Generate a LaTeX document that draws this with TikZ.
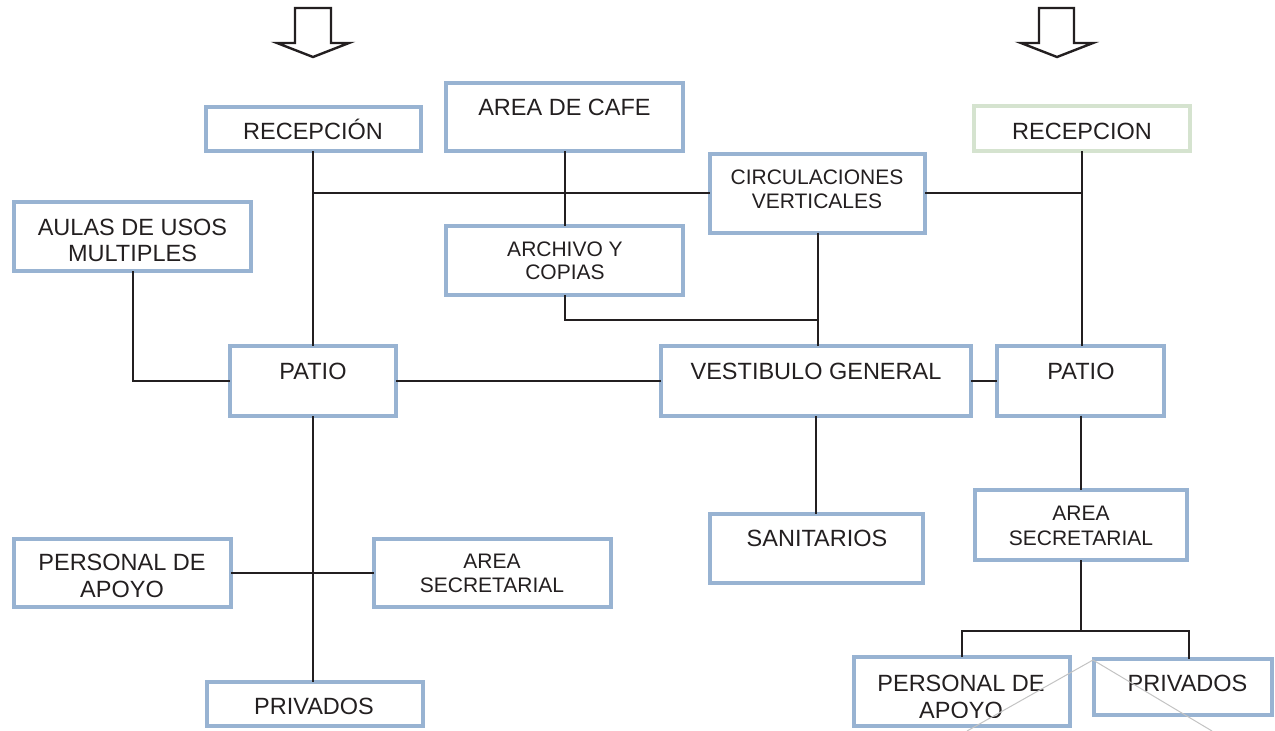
\documentclass[tikz,border=0pt]{standalone}
\usepackage{fontspec}
\setmainfont{Liberation Sans}
\definecolor{boxblue}{RGB}{152,179,210}
\definecolor{boxgreen}{RGB}{213,227,207}
\definecolor{txtc}{RGB}{35,31,32}
\definecolor{straygray}{RGB}{195,195,195}
\begin{document}
\begin{tikzpicture}[x=1pt,y=-1pt,
  box/.style={draw=boxblue, line width=4pt, inner sep=0pt, outer sep=0pt},
  conn/.style={draw=txtc, line width=2pt},
  big/.style={text=txtc, inner sep=0pt, align=center, font=\fontsize{23.5}{#1}\selectfont},
  big/.default=26,
  small/.style={text=txtc, inner sep=0pt, align=center, font=\fontsize{21}{#1}\selectfont},
  small/.default=24,
  blockarrow/.style={draw=txtc, line width=2.4pt, fill=white, line join=miter},
  strayline/.style={draw=straygray, line width=1pt}]
\useasboundingbox (0,0) rectangle (1275,731);

% boxes
\node[box, minimum width=215pt, minimum height=44pt] (recL) at (313,129) {};
\node[box, minimum width=237pt, minimum height=68pt] (cafe) at (564.5,117) {};
\node[box, minimum width=215pt, minimum height=79pt] (circ) at (817.5,193) {};
\node[box, draw=boxgreen, minimum width=216pt, minimum height=45pt] (recR) at (1082,128.5) {};
\node[box, minimum width=237pt, minimum height=69pt] (aulas) at (132.5,236.5) {};
\node[box, minimum width=237pt, minimum height=69pt] (archivo) at (564.5,260.5) {};
\node[box, minimum width=166pt, minimum height=70pt] (patioL) at (313,381) {};
\node[box, minimum width=310pt, minimum height=70pt] (vest) at (816,381) {};
\node[box, minimum width=167pt, minimum height=70pt] (patioR) at (1080.5,380.5) {};
\node[box, minimum width=213pt, minimum height=69pt] (sanit) at (816.5,548.5) {};
\node[box, minimum width=212pt, minimum height=70pt] (secR) at (1081,525) {};
\node[box, minimum width=217pt, minimum height=68pt] (persL) at (122.5,573) {};
\node[box, minimum width=237pt, minimum height=68pt] (secL) at (492.5,573) {};
\node[box, minimum width=216pt, minimum height=44pt] (privL) at (315,704) {};
\node[box, minimum width=216pt, minimum height=69pt] (persR) at (962,691.5) {};
\node[box, minimum width=178pt, minimum height=56pt] (privR) at (1183,687) {};

% texts
\node[big, anchor=base] (tRecL) at (313,139.4) {RECEPCIÓN};
\node[big, anchor=base] (tCafe) at (564.5,115.4) {AREA DE CAFE};
\node[small=24] (tCirc) at (817,189) {CIRCULACIONES\\VERTICALES};
\node[big, anchor=base] (tRecR) at (1082,139.4) {RECEPCION};
\node[big=26] (tAulas) at (132.5,240) {AULAS DE USOS\\MULTIPLES};
\node[small=23] (tArch) at (565,260.5) {ARCHIVO Y\\COPIAS};
\node[big, anchor=base] (tPatL) at (313,379.4) {PATIO};
\node[big, anchor=base] (tVest) at (816,379.4) {VESTIBULO GENERAL};
\node[big, anchor=base] (tPatR) at (1081,379.4) {PATIO};
\node[big, anchor=base] (tSan) at (817,546.4) {SANITARIOS};
\node[small=25] (tSecR) at (1081,525.5) {AREA\\SECRETARIAL};
\node[big=27] (tPersL) at (122,575.5) {PERSONAL DE\\APOYO};
\node[small=24] (tSecL) at (492,573) {AREA\\SECRETARIAL};
\node[big, anchor=base] (tPrivL) at (314,714.4) {PRIVADOS};
\begin{scope}
  \clip (854,659) rectangle (1070,717);
  \node[big=27] (tPersR) at (961,696.5) {PERSONAL DE\\APOYO};
\end{scope}
\node[big, anchor=base] (tPrivR) at (1187.5,691.4) {PRIVADOS};

% connectors
\coordinate (jL) at (313,193);
\coordinate (jR) at (1082,193);
\coordinate (jA) at (817,320);
\coordinate (jB) at (1081,631);
\coordinate (pR) at (1189,631);
\draw[conn] (recL.south) -- (patioL.north);
\draw[conn] (jL) -- (circ.west);
\draw[conn] (cafe.south) -- (archivo.north);
\draw[conn] (circ.east) -- (jR);
\draw[conn] (recR.south) -- (recR.south |- patioR.north);
\draw[conn] (aulas.south) |- (patioL.west);
\draw[conn] (patioL.east) -- (vest.west);
\draw[conn] (archivo.south) |- (jA);
\draw[conn] (circ.south) -- (circ.south |- vest.north);
\draw[conn] (vest.east) -- (vest.east -| patioR.west);
\draw[conn] (vest.south) -- (vest.south |- sanit.north);
\draw[conn] (patioL.south) -- (patioL.south |- privL.north);
\draw[conn] (persL.east) -- (secL.west);
\draw[conn] (patioR.south) -- (patioR.south |- secR.north);
\draw[conn] (secR.south) -- (jB);
\draw[conn] (persR.north) |- (pR) -- (pR |- privR.north);

% block arrows
\draw[blockarrow] (295,8) -- (331,8) -- (331,43) -- (349,43) -- (313,57) -- (277,43) -- (295,43) -- cycle;
\draw[blockarrow] (1039,8) -- (1074,8) -- (1074,43) -- (1093,43) -- (1057,57) -- (1021,43) -- (1039,43) -- cycle;

% stray thin lines
\draw[strayline] (967,731) -- (1093,660) -- (1212,731);
\end{tikzpicture}
\end{document}
